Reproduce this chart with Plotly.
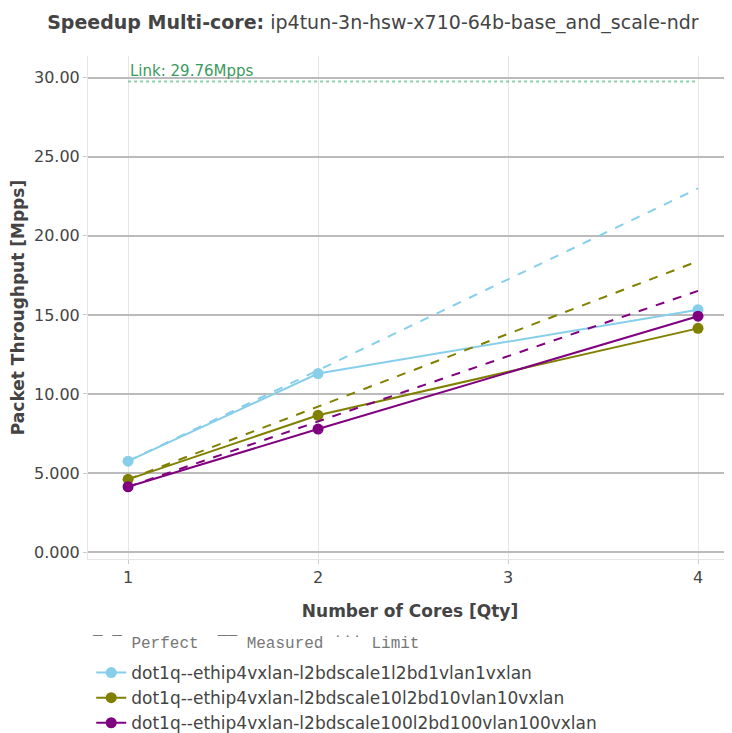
import plotly.graph_objects as go

# data
cores = [1, 2, 4]
tests = [
    "dot1q--ethip4vxlan-l2bdscale1l2bd1vlan1vxlan",
    "dot1q--ethip4vxlan-l2bdscale10l2bd10vlan10vxlan",
    "dot1q--ethip4vxlan-l2bdscale100l2bd100vlan100vxlan",
]
measured_scale1 = [5.75, 11.29, 15.33]
measured_scale10 = [4.60, 8.65, 14.15]
measured_scale100 = [4.13, 7.78, 14.92]
colors = ["#87CEEB", "#808000", "#800080"]
link_limit = 29.76
perfect_cores = [1, 4]

measured = [measured_scale1, measured_scale10, measured_scale100]

fig = go.Figure()

for name, vals, color in zip(tests, measured, colors):
    # perfect scaling from the 1-core result
    fig.add_trace(
        go.Scatter(
            x=perfect_cores,
            y=[vals[0] * c for c in perfect_cores],
            mode="lines",
            line=dict(color=color, width=2, dash="dash"),
            showlegend=False,
            hoverinfo="skip",
        )
    )
    fig.add_trace(
        go.Scatter(
            x=cores,
            y=vals,
            name=name,
            mode="lines+markers",
            line=dict(color=color, width=2),
            marker=dict(color=color, size=11),
        )
    )

fig.add_trace(
    go.Scatter(
        x=perfect_cores,
        y=[link_limit, link_limit],
        mode="lines",
        line=dict(color="mediumseagreen", width=2, dash="dot"),
        opacity=0.6,
        showlegend=False,
        hoverinfo="skip",
    )
)

fig.add_annotation(
    x=1,
    y=link_limit,
    text=f"Link: {link_limit}Mpps",
    showarrow=False,
    xanchor="left",
    yanchor="bottom",
    yshift=0,
    font=dict(color="#3a9a5c", size=15),
)

fig.add_annotation(
    xref="paper",
    yref="paper",
    x=0.003,
    y=-0.168,
    xanchor="left",
    yanchor="middle",
    showarrow=False,
    text="\u00af \u00af Perfect  \u00af\u00af Measured \u02d9\u02d9\u02d9 Limit",
    font=dict(family="Liberation Mono, Courier New, monospace", size=16, color="#777"),
)

fig.update_layout(
    width=724,
    height=733,
    title=dict(
        text="<b>Speedup Multi-core:</b> ip4tun-3n-hsw-x710-64b-base_and_scale-ndr",
        x=0.504,
        xanchor="center",
        y=0.981,
        yanchor="middle",
        font=dict(size=19, color="#444"),
    ),
    font=dict(family="DejaVu Sans, sans-serif", color="#444", size=16),
    plot_bgcolor="white",
    paper_bgcolor="white",
    margin=dict(l=80, r=0, t=48, b=180),
    showlegend=True,
    legend=dict(
        orientation="v",
        x=0.005,
        y=-0.192,
        xanchor="left",
        yanchor="top",
        font=dict(size=17),
        tracegroupgap=0,
    ),
    xaxis=dict(
        title=dict(text="<b>Number of Cores [Qty]</b>", font=dict(size=17), standoff=18),
        range=[0.789, 4.179],
        tickvals=[1, 2, 3, 4],
        showgrid=True,
        gridcolor="#e5e5e5",
        ticks="outside",
        ticklen=4,
        tickcolor="#ccc",
        linecolor="#e5e5e5",
        showline=True,
        zeroline=False,
    ),
    yaxis=dict(
        title=dict(text="<b>Packet Throughput [Mpps]</b>", font=dict(size=17)),
        range=[-0.44, 31.38],
        tickformat=".4r",
        dtick=5,
        showgrid=True,
        gridcolor="#bbb",
        gridwidth=2,
        ticks="outside",
        ticklen=4,
        tickcolor="#ccc",
        showline=True,
        linecolor="#e5e5e5",
        zeroline=False,
    ),
)

fig.write_html("out.html")
